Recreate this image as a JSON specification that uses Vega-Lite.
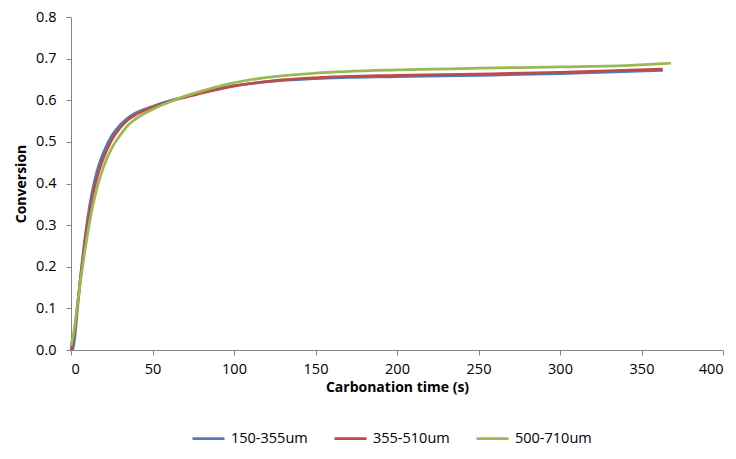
{
  "$schema": "https://vega.github.io/schema/vega-lite/v6.json",
  "width": 652,
  "height": 333,
  "autosize": {"type": "none"},
  "padding": {"left": 71, "top": 17, "right": 13, "bottom": 109},
  "background": "white",
  "config": {
    "view": {"stroke": null},
    "font": "Open Sans",
    "axis": {"grid": false, "domainColor": "#868686", "tickColor": "#868686", "labelColor": "#000000", "titleColor": "#000000", "labelFont": "Open Sans", "titleFont": "Open Sans", "labelFontSize": 14.5, "titleFontSize": 14, "titleFontWeight": "bold", "tickSize": 5}
  },
  "data": {"values": [
    {"t": 1, "c": 0.0, "s": "150-355um"},
    {"t": 2, "c": 0.02, "s": "150-355um"},
    {"t": 4, "c": 0.1, "s": "150-355um"},
    {"t": 6, "c": 0.18, "s": "150-355um"},
    {"t": 8, "c": 0.25, "s": "150-355um"},
    {"t": 10, "c": 0.31, "s": "150-355um"},
    {"t": 13, "c": 0.38, "s": "150-355um"},
    {"t": 16, "c": 0.43, "s": "150-355um"},
    {"t": 20, "c": 0.475, "s": "150-355um"},
    {"t": 25, "c": 0.515, "s": "150-355um"},
    {"t": 30, "c": 0.54, "s": "150-355um"},
    {"t": 35, "c": 0.558, "s": "150-355um"},
    {"t": 40, "c": 0.57, "s": "150-355um"},
    {"t": 50, "c": 0.585, "s": "150-355um"},
    {"t": 60, "c": 0.598, "s": "150-355um"},
    {"t": 70, "c": 0.608, "s": "150-355um"},
    {"t": 80, "c": 0.618, "s": "150-355um"},
    {"t": 100, "c": 0.635, "s": "150-355um"},
    {"t": 125, "c": 0.646, "s": "150-355um"},
    {"t": 150, "c": 0.652, "s": "150-355um"},
    {"t": 200, "c": 0.657, "s": "150-355um"},
    {"t": 250, "c": 0.66, "s": "150-355um"},
    {"t": 300, "c": 0.664, "s": "150-355um"},
    {"t": 363, "c": 0.672, "s": "150-355um"},
    {"t": 0, "c": 0.0, "s": "355-510um"},
    {"t": 2, "c": 0.04, "s": "355-510um"},
    {"t": 4, "c": 0.11, "s": "355-510um"},
    {"t": 6, "c": 0.18, "s": "355-510um"},
    {"t": 8, "c": 0.245, "s": "355-510um"},
    {"t": 10, "c": 0.3, "s": "355-510um"},
    {"t": 13, "c": 0.365, "s": "355-510um"},
    {"t": 16, "c": 0.415, "s": "355-510um"},
    {"t": 20, "c": 0.462, "s": "355-510um"},
    {"t": 25, "c": 0.505, "s": "355-510um"},
    {"t": 30, "c": 0.533, "s": "355-510um"},
    {"t": 35, "c": 0.553, "s": "355-510um"},
    {"t": 40, "c": 0.566, "s": "355-510um"},
    {"t": 50, "c": 0.583, "s": "355-510um"},
    {"t": 60, "c": 0.597, "s": "355-510um"},
    {"t": 70, "c": 0.607, "s": "355-510um"},
    {"t": 80, "c": 0.617, "s": "355-510um"},
    {"t": 100, "c": 0.634, "s": "355-510um"},
    {"t": 125, "c": 0.647, "s": "355-510um"},
    {"t": 150, "c": 0.654, "s": "355-510um"},
    {"t": 200, "c": 0.66, "s": "355-510um"},
    {"t": 250, "c": 0.663, "s": "355-510um"},
    {"t": 300, "c": 0.667, "s": "355-510um"},
    {"t": 363, "c": 0.675, "s": "355-510um"},
    {"t": 0, "c": 0.01, "s": "500-710um"},
    {"t": 2, "c": 0.05, "s": "500-710um"},
    {"t": 4, "c": 0.11, "s": "500-710um"},
    {"t": 6, "c": 0.17, "s": "500-710um"},
    {"t": 8, "c": 0.225, "s": "500-710um"},
    {"t": 10, "c": 0.275, "s": "500-710um"},
    {"t": 13, "c": 0.34, "s": "500-710um"},
    {"t": 16, "c": 0.39, "s": "500-710um"},
    {"t": 20, "c": 0.44, "s": "500-710um"},
    {"t": 25, "c": 0.485, "s": "500-710um"},
    {"t": 30, "c": 0.515, "s": "500-710um"},
    {"t": 35, "c": 0.54, "s": "500-710um"},
    {"t": 40, "c": 0.556, "s": "500-710um"},
    {"t": 50, "c": 0.578, "s": "500-710um"},
    {"t": 60, "c": 0.595, "s": "500-710um"},
    {"t": 70, "c": 0.61, "s": "500-710um"},
    {"t": 80, "c": 0.622, "s": "500-710um"},
    {"t": 100, "c": 0.642, "s": "500-710um"},
    {"t": 125, "c": 0.657, "s": "500-710um"},
    {"t": 150, "c": 0.665, "s": "500-710um"},
    {"t": 200, "c": 0.673, "s": "500-710um"},
    {"t": 250, "c": 0.677, "s": "500-710um"},
    {"t": 300, "c": 0.68, "s": "500-710um"},
    {"t": 340, "c": 0.683, "s": "500-710um"},
    {"t": 368, "c": 0.689, "s": "500-710um"}
  ]},
  "mark": {"type": "line", "strokeWidth": 2.75, "interpolate": "monotone"},
  "encoding": {
    "x": {"field": "t", "type": "quantitative", "title": "Carbonation time (s)", "scale": {"domain": [0, 400], "nice": false, "zero": true}, "axis": {"values": [0, 50, 100, 150, 200, 250, 300, 350, 400], "labelPadding": 7, "titlePadding": 5}},
    "y": {"field": "c", "type": "quantitative", "title": "Conversion", "scale": {"domain": [0, 0.8], "nice": false}, "axis": {"values": [0, 0.1, 0.2, 0.3, 0.4, 0.5, 0.6, 0.7, 0.8], "format": ".1f", "labelPadding": 10, "titlePadding": 7}},
    "color": {"field": "s", "type": "nominal", "title": null, "scale": {"domain": ["150-355um", "355-510um", "500-710um"], "range": ["#4A7EBB", "#BE4B48", "#98B954"]}, "legend": {"orient": "none", "legendX": 120, "legendY": 404, "padding": 0, "direction": "horizontal", "symbolType": "stroke", "symbolSize": 1024, "symbolStrokeWidth": 2.75, "labelFont": "Open Sans", "labelFontSize": 14.5, "labelColor": "#000000", "labelOffset": 5, "columnPadding": 21}}
  }
}
